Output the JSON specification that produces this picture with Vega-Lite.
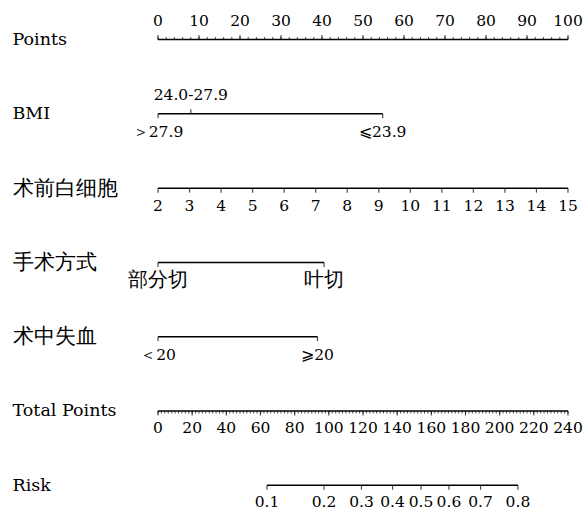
{
  "$schema": "https://vega.github.io/schema/vega-lite/v6.json",
  "width": 587,
  "height": 511,
  "autosize": {"type": "fit", "contains": "padding"},
  "padding": 0,
  "background": "white",
  "config": {
    "view": {"stroke": null},
    "font": "DejaVu Serif",
    "text": {"font": "DejaVu Serif", "color": "black", "fontSize": 15.5, "baseline": "middle"}
  },
  "encoding": {
    "y": {
      "field": "var", "type": "nominal",
      "axis": {
        "orient": "left", "domain": false, "ticks": false, "tickSize": 0, "labelPadding": 0, "offset": -12,
        "labelAlign": "left", "labelBaseline": "middle", "labelFont": "DejaVu Serif",
        "labelFontSize": {"condition": {"test": "test(/^[A-Za-z ]+$/, datum.label)", "value": 17.5}, "value": 20.5},
        "labelColor": "black", "labelLimit": 0, "title": null, "grid": false
      },
      "scale": {"type": "point", "domain": ["Points", "BMI", "术前白细胞", "手术方式", "术中失血", "Total Points", "Risk"], "padding": 0.40667, "align": 0.6557}
    }
  },
  "layer": [
    {
      "encoding": {
        "x": {"field": "v", "type": "quantitative", "axis": null, "scale": {"domain": [-38.537, 104.634], "nice": false, "zero": false}}
      },
      "layer": [
        {
          "data": {"values": [
            {"var": "Points", "v": 0, "v2": 100},
            {"var": "BMI", "v": 0, "v2": 54.8},
            {"var": "手术方式", "v": 0, "v2": 40.5},
            {"var": "术中失血", "v": 0, "v2": 38.9}
          ]},
          "mark": {"type": "rule", "strokeWidth": 1.5, "color": "black"},
          "encoding": {"x2": {"field": "v2"}}
        },
        {
          "data": {"values": [
            {"v": 0}, {"v": 2}, {"v": 4}, {"v": 6}, {"v": 8}, {"v": 10}, {"v": 12}, {"v": 14}, {"v": 16}, {"v": 18},
            {"v": 20}, {"v": 22}, {"v": 24}, {"v": 26}, {"v": 28}, {"v": 30}, {"v": 32}, {"v": 34}, {"v": 36}, {"v": 38},
            {"v": 40}, {"v": 42}, {"v": 44}, {"v": 46}, {"v": 48}, {"v": 50}, {"v": 52}, {"v": 54}, {"v": 56}, {"v": 58},
            {"v": 60}, {"v": 62}, {"v": 64}, {"v": 66}, {"v": 68}, {"v": 70}, {"v": 72}, {"v": 74}, {"v": 76}, {"v": 78},
            {"v": 80}, {"v": 82}, {"v": 84}, {"v": 86}, {"v": 88}, {"v": 90}, {"v": 92}, {"v": 94}, {"v": 96}, {"v": 98},
            {"v": 100}
          ]},
          "mark": {"type": "tick", "size": 2.5, "thickness": 1, "yOffset": -1.25, "color": "black"},
          "encoding": {"y": {"datum": "Points"}}
        },
        {
          "data": {"values": [
            {"var": "Points", "v": 0, "label": "0"},
            {"var": "Points", "v": 10, "label": "10"},
            {"var": "Points", "v": 20, "label": "20"},
            {"var": "Points", "v": 30, "label": "30"},
            {"var": "Points", "v": 40, "label": "40"},
            {"var": "Points", "v": 50, "label": "50"},
            {"var": "Points", "v": 60, "label": "60"},
            {"var": "Points", "v": 70, "label": "70"},
            {"var": "Points", "v": 80, "label": "80"},
            {"var": "Points", "v": 90, "label": "90"},
            {"var": "Points", "v": 100, "label": "100"},
            {"var": "BMI", "v": 8, "label": "24.0-27.9"}
          ]},
          "layer": [
            {"mark": {"type": "tick", "size": 4.5, "thickness": 1.2, "yOffset": -2.25, "color": "black"}},
            {"mark": {"type": "text", "dy": -19}, "encoding": {"text": {"field": "label"}}}
          ]
        },
        {
          "data": {"values": [
            {"var": "BMI", "v": 0, "label": "＞27.9"},
            {"var": "BMI", "v": 54.8, "label": "⩽23.9"},
            {"var": "手术方式", "v": 0, "label": "部分切"},
            {"var": "手术方式", "v": 40.5, "label": "叶切"},
            {"var": "术中失血", "v": 0, "label": "＜20"},
            {"var": "术中失血", "v": 38.9, "label": "⩾20"}
          ]},
          "layer": [
            {"mark": {"type": "tick", "size": 4.5, "thickness": 1.2, "yOffset": 2.25, "color": "black"}},
            {"mark": {"type": "text", "dy": 18, "fontSize": {"expr": "test(/[\\u4e00-\\u9fff]/, datum.label) ? 19.5 : 15.5"}}, "encoding": {"text": {"field": "label"}}}
          ]
        }
      ]
    },
    {
      "encoding": {
        "x": {"field": "v", "type": "quantitative", "axis": null, "scale": {"domain": [-3.0098, 15.6025], "nice": false, "zero": false}}
      },
      "layer": [
        {
          "data": {"values": [{"var": "术前白细胞", "v": 2, "v2": 15}]},
          "mark": {"type": "rule", "strokeWidth": 1.5, "color": "black"},
          "encoding": {"x2": {"field": "v2"}}
        },
        {
          "data": {"values": [
            {"var": "术前白细胞", "v": 2, "label": "2"},
            {"var": "术前白细胞", "v": 3, "label": "3"},
            {"var": "术前白细胞", "v": 4, "label": "4"},
            {"var": "术前白细胞", "v": 5, "label": "5"},
            {"var": "术前白细胞", "v": 6, "label": "6"},
            {"var": "术前白细胞", "v": 7, "label": "7"},
            {"var": "术前白细胞", "v": 8, "label": "8"},
            {"var": "术前白细胞", "v": 9, "label": "9"},
            {"var": "术前白细胞", "v": 10, "label": "10"},
            {"var": "术前白细胞", "v": 11, "label": "11"},
            {"var": "术前白细胞", "v": 12, "label": "12"},
            {"var": "术前白细胞", "v": 13, "label": "13"},
            {"var": "术前白细胞", "v": 14, "label": "14"},
            {"var": "术前白细胞", "v": 15, "label": "15"}
          ]},
          "layer": [
            {"mark": {"type": "tick", "size": 4.5, "thickness": 1.2, "yOffset": 2.25, "color": "black"}},
            {"mark": {"type": "text", "dy": 18}, "encoding": {"text": {"field": "label"}}}
          ]
        }
      ]
    },
    {
      "encoding": {
        "x": {"field": "v", "type": "quantitative", "axis": null, "scale": {"domain": [-92.488, 251.122], "nice": false, "zero": false}}
      },
      "layer": [
        {
          "data": {"values": [
            {"var": "Total Points", "v": 0, "v2": 240},
            {"var": "Risk", "v": 63.8, "v2": 210.7}
          ]},
          "mark": {"type": "rule", "strokeWidth": 1.5, "color": "black"},
          "encoding": {"x2": {"field": "v2"}}
        },
        {
          "data": {"values": [
            {"v": 0}, {"v": 2}, {"v": 4}, {"v": 6}, {"v": 8}, {"v": 10}, {"v": 12}, {"v": 14}, {"v": 16}, {"v": 18},
            {"v": 20}, {"v": 22}, {"v": 24}, {"v": 26}, {"v": 28}, {"v": 30}, {"v": 32}, {"v": 34}, {"v": 36}, {"v": 38},
            {"v": 40}, {"v": 42}, {"v": 44}, {"v": 46}, {"v": 48}, {"v": 50}, {"v": 52}, {"v": 54}, {"v": 56}, {"v": 58},
            {"v": 60}, {"v": 62}, {"v": 64}, {"v": 66}, {"v": 68}, {"v": 70}, {"v": 72}, {"v": 74}, {"v": 76}, {"v": 78},
            {"v": 80}, {"v": 82}, {"v": 84}, {"v": 86}, {"v": 88}, {"v": 90}, {"v": 92}, {"v": 94}, {"v": 96}, {"v": 98},
            {"v": 100}, {"v": 102}, {"v": 104}, {"v": 106}, {"v": 108}, {"v": 110}, {"v": 112}, {"v": 114}, {"v": 116}, {"v": 118},
            {"v": 120}, {"v": 122}, {"v": 124}, {"v": 126}, {"v": 128}, {"v": 130}, {"v": 132}, {"v": 134}, {"v": 136}, {"v": 138},
            {"v": 140}, {"v": 142}, {"v": 144}, {"v": 146}, {"v": 148}, {"v": 150}, {"v": 152}, {"v": 154}, {"v": 156}, {"v": 158},
            {"v": 160}, {"v": 162}, {"v": 164}, {"v": 166}, {"v": 168}, {"v": 170}, {"v": 172}, {"v": 174}, {"v": 176}, {"v": 178},
            {"v": 180}, {"v": 182}, {"v": 184}, {"v": 186}, {"v": 188}, {"v": 190}, {"v": 192}, {"v": 194}, {"v": 196}, {"v": 198},
            {"v": 200}, {"v": 202}, {"v": 204}, {"v": 206}, {"v": 208}, {"v": 210}, {"v": 212}, {"v": 214}, {"v": 216}, {"v": 218},
            {"v": 220}, {"v": 222}, {"v": 224}, {"v": 226}, {"v": 228}, {"v": 230}, {"v": 232}, {"v": 234}, {"v": 236}, {"v": 238},
            {"v": 240}
          ]},
          "mark": {"type": "tick", "size": 2.5, "thickness": 1, "yOffset": 1.25, "color": "black"},
          "encoding": {"y": {"datum": "Total Points"}}
        },
        {
          "data": {"values": [
            {"var": "Total Points", "v": 0, "label": "0"},
            {"var": "Total Points", "v": 20, "label": "20"},
            {"var": "Total Points", "v": 40, "label": "40"},
            {"var": "Total Points", "v": 60, "label": "60"},
            {"var": "Total Points", "v": 80, "label": "80"},
            {"var": "Total Points", "v": 100, "label": "100"},
            {"var": "Total Points", "v": 120, "label": "120"},
            {"var": "Total Points", "v": 140, "label": "140"},
            {"var": "Total Points", "v": 160, "label": "160"},
            {"var": "Total Points", "v": 180, "label": "180"},
            {"var": "Total Points", "v": 200, "label": "200"},
            {"var": "Total Points", "v": 220, "label": "220"},
            {"var": "Total Points", "v": 240, "label": "240"},
            {"var": "Risk", "v": 63.8, "label": "0.1"},
            {"var": "Risk", "v": 97.2, "label": "0.2"},
            {"var": "Risk", "v": 119.1, "label": "0.3"},
            {"var": "Risk", "v": 137.3, "label": "0.4"},
            {"var": "Risk", "v": 154.0, "label": "0.5"},
            {"var": "Risk", "v": 170.3, "label": "0.6"},
            {"var": "Risk", "v": 188.8, "label": "0.7"},
            {"var": "Risk", "v": 210.7, "label": "0.8"}
          ]},
          "layer": [
            {"mark": {"type": "tick", "size": 4.5, "thickness": 1.2, "yOffset": 2.25, "color": "black"}},
            {"mark": {"type": "text", "dy": 17}, "encoding": {"text": {"field": "label"}}}
          ]
        }
      ]
    }
  ],
  "resolve": {"scale": {"x": "independent"}}
}
